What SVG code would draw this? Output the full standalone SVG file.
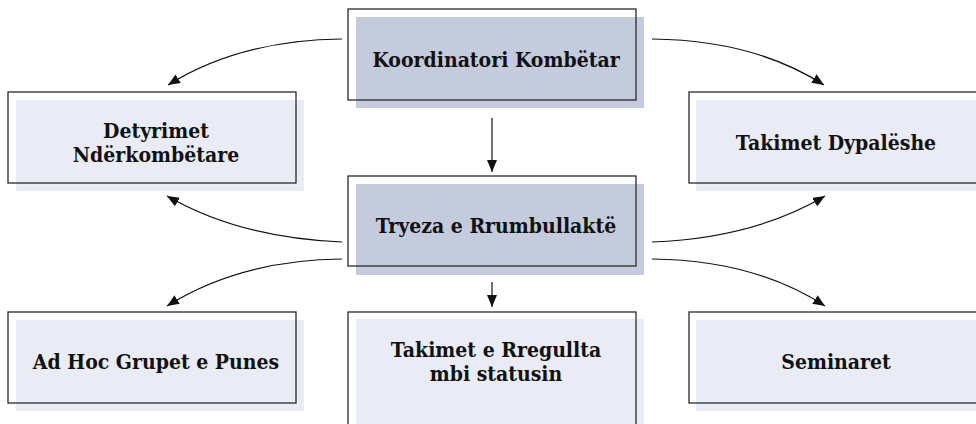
<svg xmlns="http://www.w3.org/2000/svg" width="976" height="424" viewBox="0 0 976 424">
<defs>
<style>
.dark{fill:#c3cbdd}
.light{fill:#e9ecf4}
.outline{fill:none;stroke:#2a2a2a;stroke-width:1.3}
.lbl{font-family:"DejaVu Serif Condensed","DejaVu Serif",serif;font-weight:bold;font-size:21px;fill:#111;text-anchor:middle}
.conn{fill:none;stroke:#111;stroke-width:1.2}
</style>
<marker id="ah" markerUnits="userSpaceOnUse" markerWidth="14" markerHeight="12" refX="12" refY="5" orient="auto">
<path d="M0,0 L12,5 L0,10 Z" fill="#111"/>
</marker>
</defs>
<rect width="976" height="424" fill="#fff"/>
<g id="koordinatori">
<rect class="dark" x="356" y="17" width="288" height="91"/>
<rect class="outline" x="348" y="9" width="288" height="91"/>
<text class="lbl" x="496" y="66.5">Koordinatori Kombëtar</text>
</g>
<g id="detyrimet">
<rect class="light" x="16" y="100" width="288" height="91"/>
<rect class="outline" x="8" y="92" width="288" height="91"/>
<text class="lbl" x="156" y="137.5">Detyrimet</text>
<text class="lbl" x="156" y="162">Ndërkombëtare</text>
</g>
<g id="takimet-dypaleshe">
<rect class="light" x="696" y="100" width="288" height="91"/>
<rect class="outline" x="689" y="92" width="288" height="91"/>
<text class="lbl" x="836" y="149.5">Takimet Dypalëshe</text>
</g>
<g id="tryeza">
<rect class="dark" x="356" y="184" width="288" height="91"/>
<rect class="outline" x="348" y="176" width="288" height="90"/>
<text class="lbl" x="496" y="232.5">Tryeza e Rrumbullaktë</text>
</g>
<g id="adhoc">
<rect class="light" x="16" y="320" width="288" height="91"/>
<rect class="outline" x="8" y="312" width="288" height="91"/>
<text class="lbl" x="156" y="368.5">Ad Hoc Grupet e Punes</text>
</g>
<g id="takimet-rregullta">
<rect class="light" x="356" y="319" width="288" height="110"/>
<rect class="outline" x="348" y="312" width="288" height="120"/>
<text class="lbl" x="496" y="357">Takimet e Rregullta</text>
<text class="lbl" x="496" y="380.5">mbi statusin</text>
</g>
<g id="seminaret">
<rect class="light" x="696" y="320" width="288" height="91"/>
<rect class="outline" x="689" y="312" width="288" height="91"/>
<text class="lbl" x="836" y="368.5">Seminaret</text>
</g>
<g id="connectors">
<path class="conn" marker-end="url(#ah)" d="M342,39 Q240,40 168,85"/>
<path class="conn" marker-end="url(#ah)" d="M652,39 Q754,40 824,85"/>
<path class="conn" marker-end="url(#ah)" d="M492,118 L492,172"/>
<path class="conn" marker-end="url(#ah)" d="M342,242 Q240,238 167,196"/>
<path class="conn" marker-end="url(#ah)" d="M652,242 Q754,238 825,196"/>
<path class="conn" marker-end="url(#ah)" d="M342,259 Q240,260 167,306"/>
<path class="conn" marker-end="url(#ah)" d="M652,259 Q754,260 825,306"/>
<path class="conn" marker-end="url(#ah)" d="M492,282 L492,307"/>
</g>
</svg>
